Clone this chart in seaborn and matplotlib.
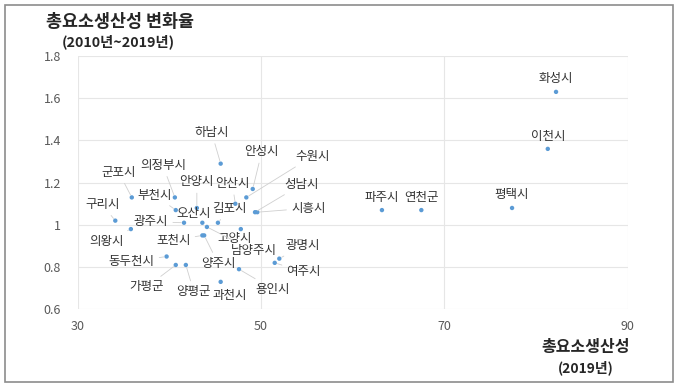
import pandas as pd
import matplotlib.pyplot as plt
import seaborn as sns
from matplotlib.patches import Rectangle

# Gyeonggi cities: TFP level (2019) vs TFP change rate (2010~2019)
cities = ['화성시', '이천시', '파주시', '연천군', '평택시', '하남시', '안성시', '수원시',
          '성남시', '시흥시', '안산시', '구리시', '의왕시', '군포시', '의정부시', '부천시',
          '안양시', '오산시', '광주시', '김포시', '포천시', '양주시', '고양시', '남양주시',
          '동두천시', '가평군', '양평군', '용인시', '과천시', '여주시', '광명시']
tfp_2019 = [82.2, 81.3, 63.2, 67.5, 77.4, 45.6, 49.1, 48.4,
            49.35, 49.6, 47.2, 34.1, 35.8, 35.9, 40.6, 40.7,
            43.0, 43.6, 41.6, 45.3, 43.6, 43.8, 47.8, 44.1,
            39.7, 40.7, 41.8, 47.6, 45.6, 51.5, 52.0]
tfp_change = [1.63, 1.36, 1.07, 1.07, 1.08, 1.29, 1.17, 1.13,
              1.06, 1.06, 1.10, 1.02, 0.98, 1.13, 1.13, 1.07,
              1.08, 1.01, 1.01, 1.01, 0.95, 0.95, 0.98, 0.99,
              0.85, 0.81, 0.81, 0.79, 0.73, 0.82, 0.84]

x_ticks = [30, 50, 70, 90]
y_ticks = [0.6, 0.8, 1.0, 1.2, 1.4, 1.6, 1.8]

# label placement (offset from point, in image pixels: right, down)
label_offsets = {
    '화성시': (0, -13), '이천시': (0, -12), '파주시': (0, -13), '연천군': (0, -13),
    '평택시': (0, -13), '하남시': (-9, -31), '안성시': (9, -37), '수원시': (66, -41),
    '성남시': (47, -28), '시흥시': (51, -4), '안산시': (-3, -20), '구리시': (-13, -16),
    '의왕시': (-24, 12), '군포시': (-13, -25), '의정부시': (-12, -32), '부천시': (-21, -15),
    '안양시': (0, -26), '오산시': (-9, -9), '광주시': (-33, -1), '김포시': (12, -14),
    '포천시': (-29, 5), '양주시': (14, 28), '고양시': (-6, 9), '남양주시': (47, 24),
    '동두천시': (-35, 5), '가평군': (-29, 22), '양평군': (8, 27), '용인시': (34, 20),
    '과천시': (9, 14), '여주시': (29, 9), '광명시': (23, -13),
}

df = pd.DataFrame({'city': cities, 'tfp': tfp_2019, 'change': tfp_change})

sns.set_style('white')
plt.rcParams['font.family'] = ['Noto Sans CJK KR', 'DejaVu Sans']

fig = plt.figure(figsize=(6.8, 3.87), dpi=100)
ax = fig.add_axes([0.1143, 0.2008, 0.8085, 0.6545])

sns.scatterplot(data=df, x='tfp', y='change', ax=ax, color='#5B9BD5',
                s=10, edgecolor='none', zorder=3)

for name, x, y in zip(cities, tfp_2019, tfp_change):
    dx, dy = label_offsets[name]
    far = (dx * dx + dy * dy) ** 0.5 > 18
    ax.annotate(name, (x, y), xytext=(dx, -dy), textcoords='offset pixels',
                ha='center', va='center', fontsize=9, color='#333333',
                arrowprops=dict(arrowstyle='-', color='#cfcfcf', lw=0.6,
                                shrinkA=1, shrinkB=2) if far else None,
                zorder=4)

ax.set_xlim(30, 90)
ax.set_ylim(0.6, 1.8)
ax.set_xticks(x_ticks)
ax.set_yticks(y_ticks)
ax.set_yticklabels([f'{v:g}' for v in y_ticks])
ax.grid(True, color='#e6e6e6', lw=0.8)
for s in ax.spines.values():
    s.set_visible(False)
ax.tick_params(axis='both', length=0, labelsize=9, labelcolor='#595959')
ax.tick_params(axis='x', pad=8)
ax.tick_params(axis='y', pad=12)
ax.set_xlabel('')
ax.set_ylabel('')

# axis titles
fig.text(46 / 680, 1 - 22 / 387, '총요소생산성 변화율', fontsize=12.5, fontweight='bold',
         color='#262626', ha='left', va='center')
fig.text(118 / 680, 1 - 42 / 387, '(2010년~2019년)', fontsize=10.3, fontweight='bold',
         color='#262626', ha='center', va='center')
fig.text(586 / 680, 1 - 347 / 387, '총요소생산성', fontsize=11.5, fontweight='bold',
         color='#262626', ha='center', va='center')
fig.text(586 / 680, 1 - 368 / 387, '(2019년)', fontsize=10, fontweight='bold',
         color='#262626', ha='center', va='center')

# outer chart frame
fig.patches.append(Rectangle((5 / 680, 5 / 387), 668 / 680, 377 / 387,
                             transform=fig.transFigure, fill=False,
                             edgecolor='#8c8c8c', lw=1.2))

fig.savefig('out.png', dpi=100)
